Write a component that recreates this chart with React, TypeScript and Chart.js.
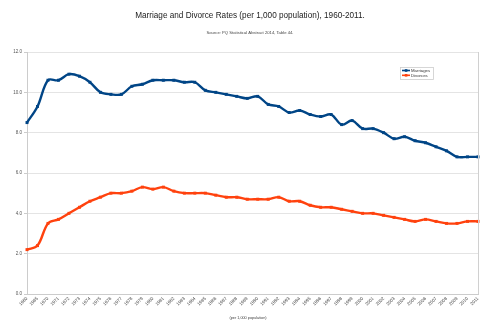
import React, { useEffect, useRef } from "react";
import { Chart, registerables } from "chart.js";

Chart.register(...registerables);

const years: string[] = [
  "1960", "1965", "1970", "1971", "1972", "1973", "1974", "1975", "1976", "1977",
  "1978", "1979", "1980", "1981", "1982", "1983", "1984", "1985", "1986", "1987",
  "1988", "1989", "1990", "1991", "1992", "1993", "1994", "1995", "1996", "1997",
  "1998", "1999", "2000", "2001", "2002", "2003", "2004", "2005", "2006", "2007",
  "2008", "2009", "2010", "2011",
];

const marriages: number[] = [
  8.5, 9.3, 10.6, 10.6, 10.9, 10.8, 10.5, 10.0, 9.9, 9.9,
  10.3, 10.4, 10.6, 10.6, 10.6, 10.5, 10.5, 10.1, 10.0, 9.9,
  9.8, 9.7, 9.8, 9.4, 9.3, 9.0, 9.1, 8.9, 8.8, 8.9,
  8.4, 8.6, 8.2, 8.2, 8.0, 7.7, 7.8, 7.6, 7.5, 7.3,
  7.1, 6.8, 6.8, 6.8,
];

const divorces: number[] = [
  2.2, 2.4, 3.5, 3.7, 4.0, 4.3, 4.6, 4.8, 5.0, 5.0,
  5.1, 5.3, 5.2, 5.3, 5.1, 5.0, 5.0, 5.0, 4.9, 4.8,
  4.8, 4.7, 4.7, 4.7, 4.8, 4.6, 4.6, 4.4, 4.3, 4.3,
  4.2, 4.1, 4.0, 4.0, 3.9, 3.8, 3.7, 3.6, 3.7, 3.6,
  3.5, 3.5, 3.6, 3.6,
];

const titleText = "Marriage and Divorce Rates (per 1,000 population), 1960-2011.";
const subtitleText = "Source: PQ Statistical Abstract 2014, Table 44.";
const xTitleText = "(per 1,000 population)";
const seriesNames: string[] = ["Marriages", "Divorces"];
const seriesColors: string[] = ["#004586", "#ff420e"];

const FONT = "'Liberation Sans', Arial, sans-serif";

const decorPlugin = {
  id: "decor",
  afterDraw(chart: any) {
    const ctx = chart.ctx;
    const area = chart.chartArea;
    ctx.save();
    // right border
    ctx.strokeStyle = "#d0d0d0";
    ctx.lineWidth = 1;
    ctx.beginPath();
    ctx.moveTo(Math.round(area.right) + 0.5, area.top);
    ctx.lineTo(Math.round(area.right) + 0.5, area.bottom);
    ctx.stroke();
    // titles
    ctx.fillStyle = "#222";
    ctx.textAlign = "center";
    ctx.textBaseline = "middle";
    ctx.font = `8.2px ${FONT}`;
    ctx.fillText(titleText, 250, 15.5);
    ctx.fillStyle = "#444";
    ctx.font = `4.2px ${FONT}`;
    ctx.fillText(subtitleText, 250, 33);
    ctx.font = `3.8px ${FONT}`;
    ctx.fillText(xTitleText, 248, 318);
    // legend
    const lx = 400, ly = 67, lw = 33, lh = 12;
    ctx.fillStyle = "#ffffff";
    ctx.fillRect(lx, ly, lw, lh);
    ctx.strokeStyle = "#cccccc";
    ctx.lineWidth = 0.8;
    ctx.strokeRect(lx + 0.5, ly + 0.5, lw, lh);
    seriesNames.forEach((name, i) => {
      const cy = ly + 3.5 + i * 4.8;
      ctx.strokeStyle = seriesColors[i];
      ctx.lineWidth = 1.6;
      ctx.beginPath();
      ctx.moveTo(lx + 2, cy);
      ctx.lineTo(lx + 10, cy);
      ctx.stroke();
      ctx.fillStyle = seriesColors[i];
      ctx.fillRect(lx + 4.8, cy - 1.3, 2.6, 2.6);
      ctx.fillStyle = "#333";
      ctx.textAlign = "left";
      ctx.font = `4.3px ${FONT}`;
      ctx.fillText(name, lx + 11, cy + 0.2);
    });
    ctx.restore();
  },
};

export default function App() {
  const canvasRef = useRef<HTMLCanvasElement | null>(null);

  useEffect(() => {
    document.body.style.margin = "0";
    const canvas = canvasRef.current;
    if (!canvas) return;
    const mk = (label: string, data: number[], color: string) => ({
      label,
      data,
      borderColor: color,
      backgroundColor: color,
      borderWidth: 2.4,
      tension: 0.35,
      pointStyle: "rect" as const,
      pointRadius: 2.1,
      pointHoverRadius: 2.1,
      pointBorderWidth: 0,
      pointBackgroundColor: color,
    });
    const chart = new Chart(canvas, {
      type: "line",
      data: {
        labels: years,
        datasets: [
          mk(seriesNames[0], marriages, seriesColors[0]),
          mk(seriesNames[1], divorces, seriesColors[1]),
        ],
      },
      options: {
        animation: false,
        responsive: false,
        maintainAspectRatio: false,
        layout: { padding: { top: 52, right: 22, left: 0, bottom: 0 } },
        plugins: {
          legend: { display: false },
          title: { display: false },
          tooltip: { enabled: false },
        },
        scales: {
          x: {
            type: "category",
            offset: false,
            afterFit: (scale: any) => {
              scale.height = 33;
            },
            grid: { display: false, drawTicks: false },
            border: { display: true, color: "#cccccc" },
            ticks: {
              autoSkip: false,
              minRotation: 45,
              maxRotation: 45,
              padding: 2,
              color: "#444",
              font: { family: FONT, size: 4.5 },
            },
          },
          y: {
            min: 0,
            max: 12,
            afterFit: (scale: any) => {
              scale.width = 27;
            },
            grid: { color: "#e4e4e4", tickLength: 3, tickColor: "#cccccc" },
            border: { display: true, color: "#cccccc" },
            ticks: {
              stepSize: 2,
              padding: 2,
              color: "#555",
              font: { family: FONT, size: 4.5 },
              callback: (v: any) => Number(v).toFixed(1),
            },
          },
        },
      },
      plugins: [decorPlugin],
    });
    return () => chart.destroy();
  }, []);

  return <canvas ref={canvasRef} width={500} height={327} style={{ display: "block" }} />;
}
